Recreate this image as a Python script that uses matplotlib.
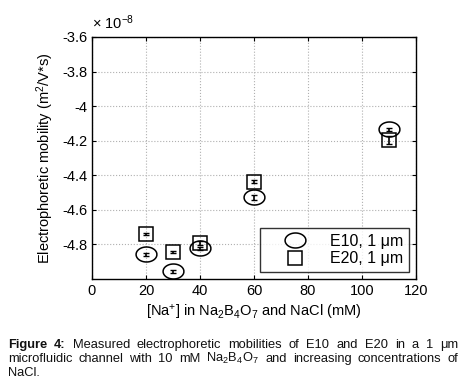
import numpy as np
import matplotlib.pyplot as plt
from matplotlib.path import Path

plt.rcParams['font.family'] = ['Liberation Sans', 'DejaVu Sans']
plt.rcParams['mathtext.default'] = 'regular'

# concentrations (mM) and mobilities (x 1e-8 m^2/V*s)
na_conc = [20, 30, 40, 60, 110]
e10_mob = [-4.858, -4.956, -4.823, -4.527, -4.133]
e10_err = [0.01, 0.008, 0.01, 0.015, 0.008]
e20_mob = [-4.742, -4.846, -4.79, -4.437, -4.197]
e20_err = [0.006, 0.006, 0.012, 0.008, 0.022]

yticks = [-3.6, -3.8, -4.0, -4.2, -4.4, -4.6, -4.8]
ytick_labels = ['-3.6', '-3.8', '-4', '-4.2', '-4.4', '-4.6', '-4.8']

caption_lines = [
    'Figure 4: Measured electrophoretic mobilities of E10 and E20 in a 1 μm',
    'microfluidic channel with 10 mM Na$_2$B$_4$O$_7$ and increasing concentrations of',
    'NaCl.',
]

# slightly flattened circle marker
t = np.linspace(0, 2 * np.pi, 60)
ellipse = Path(np.column_stack([np.cos(t), 0.72 * np.sin(t)]))

fig = plt.figure(figsize=(4.66, 3.81), dpi=100)
ax = fig.add_axes([92 / 466, 1 - 279 / 381, 324 / 466, 242 / 381])

ax.errorbar(na_conc, e10_mob, yerr=e10_err, fmt='none', ecolor='black',
            elinewidth=1.2, capsize=2)
ax.errorbar(na_conc, e20_mob, yerr=e20_err, fmt='none', ecolor='black',
            elinewidth=1.2, capsize=2)
ax.plot(na_conc, e10_mob, linestyle='none', marker=ellipse, markersize=15,
        markerfacecolor='none', markeredgecolor='black', markeredgewidth=1.1,
        label='E10, 1 μm')
ax.plot(na_conc, e20_mob, linestyle='none', marker='s', markersize=9.5,
        markerfacecolor='none', markeredgecolor='black', markeredgewidth=1.1,
        label='E20, 1 μm')

ax.set_xlim(0, 120)
ax.set_ylim(-5.0, -3.6)
ax.set_xticks([0, 20, 40, 60, 80, 100, 120])
ax.set_yticks(yticks)
ax.set_yticklabels(ytick_labels)
ax.tick_params(direction='in', top=True, right=True, labelsize=10.5, length=3)
ax.grid(True, linestyle=':', color='#b0b0b0', linewidth=0.8)
for s in ax.spines.values():
    s.set_linewidth(1.0)

ax.set_xlabel('[Na$^{+}$] in Na$_2$B$_4$O$_7$ and NaCl (mM)', fontsize=10.5)
ax.set_ylabel('Electrophoretic mobility (m$^2$/V*s)', fontsize=10.5)
ax.text(0.0, 1.02, r'× 10$^{-8}$', transform=ax.transAxes,
        fontsize=10.5, ha='left', va='bottom')

leg = ax.legend(loc='lower right', fontsize=11.5, frameon=True, fancybox=False,
                edgecolor='black', borderpad=0.35, labelspacing=0.15,
                handlelength=3.6, handletextpad=0.4, borderaxespad=0.45)
leg.get_frame().set_linewidth(1.0)

# caption, justified between left and right edges
renderer = fig.canvas.get_renderer()
left, right = 8 / 466, 458 / 466
ys = [1 - 348 / 381, 1 - 362 / 381, 1 - 376 / 381]
for i, (line, y) in enumerate(zip(caption_lines, ys)):
    words = line.split(' ')
    arts = []
    for j, w in enumerate(words):
        bold = (i == 0 and j < 2)
        arts.append(fig.text(0, y, w, fontsize=9.3, color='#111111',
                             fontweight='bold' if bold else 'normal'))
    widths = [a.get_window_extent(renderer).width / fig.bbox.width for a in arts]
    if i < len(caption_lines) - 1:
        gap = (right - left - sum(widths)) / (len(words) - 1)
    else:
        gap = 0.25 * 9 / 72 * 100 / fig.bbox.width
    x = left
    for a, wd in zip(arts, widths):
        a.set_x(x)
        x += wd + gap

fig.savefig('out.png', dpi=100)
